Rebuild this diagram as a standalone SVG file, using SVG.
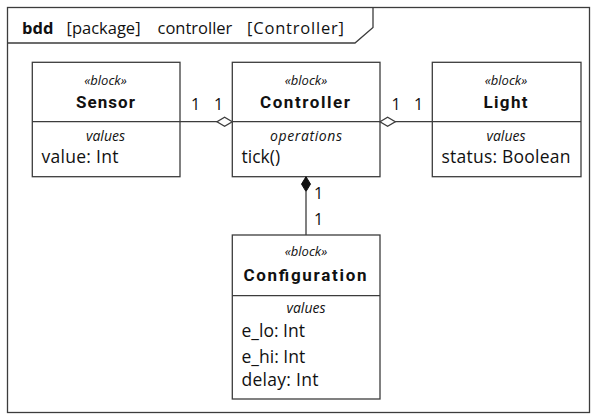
<svg xmlns="http://www.w3.org/2000/svg" width="597" height="420" viewBox="0 0 597 420">
  <style>
    .ln { fill: none; stroke: #3c3c3c; stroke-width: 1.3; }
    .box { fill: #ffffff; stroke: #3c3c3c; stroke-width: 1.3; }
    text { font-family: "Open Sans", "Noto Sans", sans-serif; fill: #111111; }
    .st { font-size: 13px; font-style: italic; text-anchor: middle; }
    .nm { font-family: Roboto, "Open Sans", sans-serif; font-size: 17px; font-weight: bold; text-anchor: middle; }
    .cp { font-size: 14px; font-style: italic; text-anchor: middle; }
    .pr { font-size: 17.5px; }
    .mul { font-size: 16px; }
    .hd { font-size: 16.5px; }
  </style>

  <!-- diagram frame -->
  <g id="frame">
    <rect class="ln" x="7.5" y="7.5" width="582" height="405"/>
    <path class="ln" d="M7.5 43 H355 L373 27.5 V7.5"/>
    <text class="hd" x="22" y="34" font-weight="bold">bdd</text>
    <text class="hd" x="66.5" y="34">[package]</text>
    <text class="hd" x="157.5" y="34">controller</text>
    <text class="hd" x="247" y="34" textLength="97" lengthAdjust="spacing">[Controller]</text>
  </g>

  <!-- blocks -->
  <g id="sensor">
    <rect class="box" x="32.3" y="62.3" width="147.7" height="114.4"/>
    <line class="ln" x1="32.3" y1="121.7" x2="180" y2="121.7"/>
    <text class="st" x="105.5" y="85">«block»</text>
    <text class="nm" x="105.5" y="107.5" textLength="59" lengthAdjust="spacing">Sensor</text>
    <text class="cp" x="105.5" y="140.5">values</text>
    <text class="pr" x="41.5" y="163.3" textLength="77" lengthAdjust="spacing">value: Int</text>
  </g>

  <g id="controller">
    <rect class="box" x="232.3" y="62.3" width="147.7" height="114.4"/>
    <line class="ln" x1="232.3" y1="121.7" x2="380" y2="121.7"/>
    <text class="st" x="306" y="85">«block»</text>
    <text class="nm" x="305" y="107.5" textLength="90" lengthAdjust="spacing">Controller</text>
    <text class="cp" x="306" y="140.5" textLength="72" lengthAdjust="spacing">operations</text>
    <text class="pr" x="241.5" y="163.3">tick()</text>
  </g>

  <g id="light">
    <rect class="box" x="432.3" y="62.3" width="148.7" height="114.4"/>
    <line class="ln" x1="432.3" y1="121.7" x2="581" y2="121.7"/>
    <text class="st" x="506" y="85">«block»</text>
    <text class="nm" x="505.5" y="107.5" textLength="44" lengthAdjust="spacing">Light</text>
    <text class="cp" x="506" y="140.5">values</text>
    <text class="pr" x="441.5" y="163.3" textLength="129" lengthAdjust="spacing">status: Boolean</text>
  </g>

  <g id="configuration">
    <rect class="box" x="232.3" y="235" width="147.7" height="164"/>
    <line class="ln" x1="232.3" y1="295.7" x2="380" y2="295.7"/>
    <text class="st" x="306" y="256">«block»</text>
    <text class="nm" x="305" y="280.5" textLength="123" lengthAdjust="spacing">Configuration</text>
    <text class="cp" x="306" y="312.5">values</text>
    <text class="pr" x="241.5" y="336.5">e_lo: Int</text>
    <text class="pr" x="241.5" y="362.5">e_hi: Int</text>
    <text class="pr" x="241.5" y="386" textLength="77" lengthAdjust="spacing">delay: Int</text>
  </g>

  <!-- associations -->
  <g id="connectors">
    <line class="ln" x1="180" y1="121.7" x2="217" y2="121.7"/>
    <path class="box" d="M232.3 121.7 L224.6 117.2 L217 121.7 L224.6 126.2 Z"/>
    <text class="mul" x="191" y="110">1</text>
    <text class="mul" x="214" y="110">1</text>

    <line class="ln" x1="395" y1="121.7" x2="432.3" y2="121.7"/>
    <path class="box" d="M380 121.7 L387.6 117.2 L395.3 121.7 L387.6 126.2 Z"/>
    <text class="mul" x="391.5" y="110">1</text>
    <text class="mul" x="414" y="110">1</text>

    <line class="ln" x1="306" y1="191.5" x2="306" y2="235"/>
    <path d="M306 176.7 L310.5 184.1 L306 191.5 L301.5 184.1 Z" fill="#111111" stroke="#111111" stroke-width="1"/>
    <text class="mul" x="314" y="199.3">1</text>
    <text class="mul" x="314" y="225">1</text>
  </g>
</svg>
